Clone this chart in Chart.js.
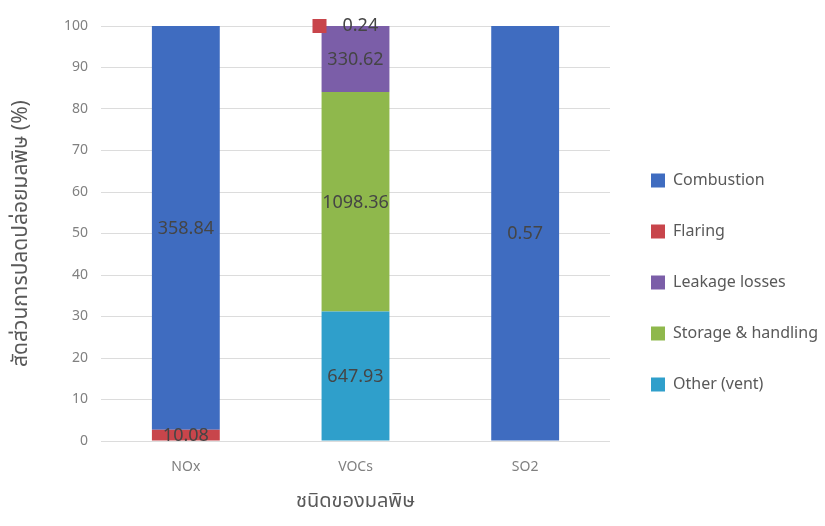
<!DOCTYPE html>
<html>
<head>
<meta charset="utf-8">
<script src="https://cdn.jsdelivr.net/npm/chart.js@4"></script>
<style>
  html, body { margin: 0; padding: 0; background: #fff; }
  #wrap { width: 825px; height: 526px; position: relative; }
</style>
</head>
<body>
<div id="wrap"><canvas id="chart"></canvas></div>
<script>
// emission sources per pollutant (tonnes), shown as share of each pollutant
const pollutants = ['NOx', 'VOCs', 'SO2'];
const sources = ['Other (vent)', 'Storage & handling', 'Leakage losses', 'Flaring', 'Combustion'];
const otherVent = [0, 647.93, 0];
const storage = [0, 1098.36, 0];
const leakage = [0, 330.62, 0];
const flaring = [10.08, 0.24, 0];
const combustion = [358.84, 0, 0.57];
const colors = ['#2f9fcb', '#8fb84c', '#7b5ea8', '#c8454b', '#3f6cc0'];
const yTicks = [0, 10, 20, 30, 40, 50, 60, 70, 80, 90, 100];

const FONT = "'Noto Sans', 'Noto Sans Thai', 'DejaVu Sans', sans-serif";

const raw = [otherVent, storage, leakage, flaring, combustion];
const totals = pollutants.map((p, i) => raw.reduce((s, arr) => s + arr[i], 0));

const datasets = sources.map((name, k) => ({
  label: name,
  raw: raw[k],
  data: raw[k].map((v, i) => v / totals[i] * 100),
  backgroundColor: colors[k],
  borderWidth: 0,
  categoryPercentage: 1,
  barPercentage: 0.4
}));

// value labels inside each segment; tiny segments get a key box above the bar
const valueLabels = {
  id: 'valueLabels',
  afterDatasetsDraw(chart) {
    const ctx = chart.ctx;
    ctx.save();
    ctx.font = '18px ' + FONT;
    ctx.textBaseline = 'middle';
    chart.data.datasets.forEach((ds, k) => {
      const meta = chart.getDatasetMeta(k);
      meta.data.forEach((bar, i) => {
        const v = ds.raw[i];
        if (!v) return;
        const txt = v.toFixed(2);
        if (ds.data[i] < 1 && pollutants[i] === 'VOCs') {
          const y = chart.scales.y.getPixelForValue(100);
          ctx.fillStyle = ds.backgroundColor;
          ctx.fillRect(bar.x - 43, y - 7, 14, 14);
          ctx.fillStyle = '#454545';
          ctx.textAlign = 'left';
          ctx.fillText(txt, bar.x - 13, y);
          return;
        }
        ctx.fillStyle = '#454545';
        ctx.textAlign = 'center';
        const yc = (bar.y + bar.base) / 2;
        ctx.fillText(txt, bar.x, yc + 1);
      });
    });
    ctx.restore();
  }
};

// nudge the legend block right/down after layout
const legendShift = {
  id: 'legendShift',
  afterLayout(chart) {
    const lg = chart.legend;
    if (!lg) return;
    lg.left += 6; lg.right += 6;
    lg.top += 11; lg.bottom += 11;
  }
};

new Chart(document.getElementById('chart'), {
  type: 'bar',
  data: { labels: pollutants, datasets: datasets },
  options: {
    responsive: true,
    maintainAspectRatio: false,
    animation: false,
    layout: { padding: { left: 4, right: 13, top: 26, bottom: 9 } },
    plugins: {
      legend: {
        position: 'right',
        reverse: true,
        labels: {
          font: { family: FONT, size: 16 },
          color: '#595959',
          boxWidth: 14,
          boxHeight: 14,
          padding: 35
        }
      },
      tooltip: { enabled: false }
    },
    scales: {
      x: {
        stacked: true,
        grid: { display: false },
        border: { display: false },
        ticks: { color: '#808080', font: { family: FONT, size: 14 }, padding: 10 },
        title: { display: true, text: 'ชนิดของมลพิษ', color: '#595959', font: { family: FONT, size: 20 }, padding: { top: 14 } },
        afterFit(scale) { scale.height = 76; }
      },
      y: {
        stacked: true,
        min: 0,
        max: 100,
        afterBuildTicks(scale) { scale.ticks = yTicks.map(v => ({ value: v })); },
        grid: { color: '#dcdcdc', drawTicks: false },
        border: { display: false },
        ticks: { color: '#808080', font: { family: FONT, size: 14 }, padding: 13 },
        title: { display: true, text: 'สัดส่วนการปลดปล่อยมลพิษ (%)', color: '#595959', font: { family: FONT, size: 21 } },
        afterFit(scale) { scale.width = 97; }
      }
    }
  },
  plugins: [valueLabels, legendShift]
});
</script>
</body>
</html>
